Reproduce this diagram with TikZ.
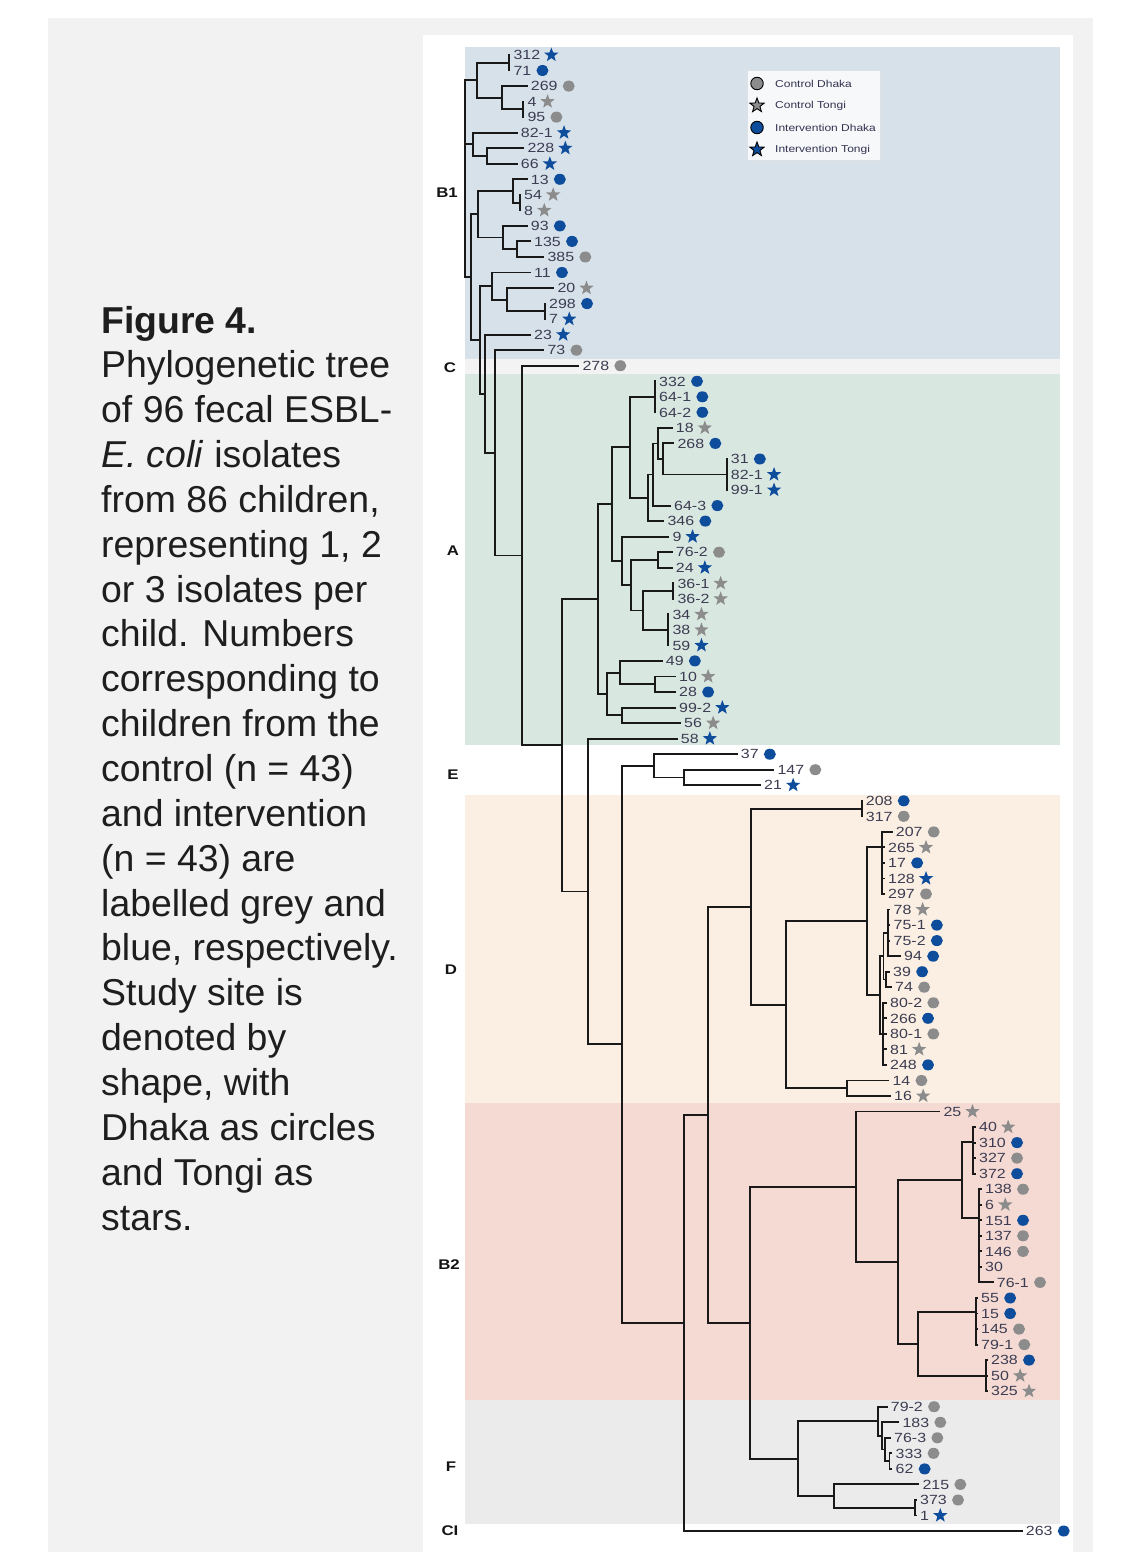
\documentclass[tikz,border=0pt]{standalone}
\usepackage{fontspec}
\setmainfont{Liberation Sans}
\newfontfamily\leaffont[FakeStretch=1.2]{Liberation Sans}
\usetikzlibrary{shapes.geometric}
\definecolor{gC}{RGB}{140,140,140}
\definecolor{bC}{RGB}{14,77,155}
\definecolor{labC}{RGB}{60,60,82}
\definecolor{outerC}{RGB}{242,242,242}
\definecolor{bandBone}{RGB}{214,225,234}
\definecolor{bandC}{RGB}{243,243,243}
\definecolor{bandA}{RGB}{217,231,225}
\definecolor{bandD}{RGB}{250,239,226}
\definecolor{bandBtwo}{RGB}{245,218,211}
\definecolor{bandF}{RGB}{235,235,235}
\definecolor{legC}{RGB}{247,248,250}
\definecolor{legB}{RGB}{222,226,230}
\tikzset{
 br/.style={line width=1.9pt, line cap=rect, draw={rgb,255:red,25;green,25;blue,25}},
 lab/.style={inner sep=0pt, anchor=west, font=\leaffont\fontsize{13.3}{13.3}\selectfont, text=labC, text height=9.5pt, text depth=0pt},
 symCD/.style={ellipse, fill=gC, inner sep=0pt, minimum width=12pt, minimum height=11pt},
 symID/.style={symCD, fill=bC},
 symCT/.style={star, star points=5, star point ratio=2.4, fill=gC, inner sep=0pt, minimum size=15pt},
 symIT/.style={symCT, fill=bC},
 symNO/.style={inner sep=0pt, minimum size=0pt},
 regtxt/.style={font=\leaffont\bfseries\fontsize{14}{14}\selectfont, text={rgb,255:red,20;green,20;blue,20}},
 captxt/.style={anchor=base west, inner sep=0pt, font=\fontsize{37.4}{44.9}\selectfont, text={rgb,255:red,30;green,30;blue,30}},
 legtxt/.style={anchor=west, inner sep=0pt, font=\leaffont\fontsize{10}{10}\selectfont, text={rgb,255:red,50;green,50;blue,80}},
}
\newcommand\lv[5]{%
 \coordinate (L#1) at (#2,#3);
 \node[lab] (T#1) at ([xshift=4pt]L#1) {#4};
 \node[sym#5] (S#1) at ([xshift=11pt]T#1.east) {};
}
\newcommand\kids[2]{\foreach \c in {#2}{\draw[br] (#1) |- (\c);}}
\begin{document}
\begin{tikzpicture}[x=1pt,y=-1pt]
\useasboundingbox (0,0) rectangle (1145,1552);
\fill[white] (0,0) rectangle (1145,1552);
\fill[outerC] (48,18) rectangle (1093,1552);
\fill[white] (423,35) rectangle (1073,1552);
% bands
\fill[bandBone] (465,47) rectangle (1060,359);
\fill[bandC] (465,359) rectangle (1060,374);
\fill[bandA] (465,374) rectangle (1060,745);
\fill[bandD] (465,795) rectangle (1060,1103);
\fill[bandBtwo] (465,1103) rectangle (1060,1400);
\fill[bandF] (465,1400) rectangle (1060,1524);
% caption
\foreach \t [count=\i] in {\textbf{Figure 4.},Phylogenetic tree,{of 96 fecal ESBL-},{\textit{E. coli} isolates},{from 86 children,},{representing 1, 2},or 3 isolates per,child. Numbers,corresponding to,children from the,control (n = 43),and intervention,(n = 43) are,labelled grey and,{blue, respectively.},Study site is,denoted by,{shape, with},Dhaka as circles,and Tongi as,stars.}
  {\node[captxt] (cap\i) at (101,{333+44.85*(\i-1)}) {\t};}
% region letters
\node[regtxt] (rB1) at (447,193) {B1};
\node[regtxt] (rC) at (450,368) {C};
\node[regtxt] (rA) at (453,551) {A};
\node[regtxt] (rE) at (453,775) {E};
\node[regtxt] (rD) at (451,970) {D};
\node[regtxt] (rB2) at (449,1265) {B2};
\node[regtxt] (rF) at (451,1467) {F};
\node[regtxt] (rCI) at (450,1531) {CI};
% legend
\filldraw[fill=legC, draw=legB, line width=0.8pt] (747,70) rectangle (880,160);
\node[ellipse, draw=black, fill=gC, line width=0.9pt, inner sep=0pt, minimum size=12.5pt] (g1) at (757,83.5) {};
\node[star, star points=5, star point ratio=2.4, draw=black, fill=gC, line width=0.9pt, inner sep=0pt, minimum size=15pt] (g2) at (757,105.5) {};
\node[ellipse, draw=black, fill=bC, line width=0.9pt, inner sep=0pt, minimum size=12.5pt] (g3) at (757,127.5) {};
\node[star, star points=5, star point ratio=2.4, draw=black, fill=bC, line width=0.9pt, inner sep=0pt, minimum size=15pt] (g4) at (757,149.5) {};
\node[legtxt] (lt1) at (775,83.5) {Control Dhaka};
\node[legtxt] (lt2) at (775,105.5) {Control Tongi};
\node[legtxt] (lt3) at (775,127.5) {Intervention Dhaka};
\node[legtxt] (lt4) at (775,149.5) {Intervention Tongi};
% leaves
\lv{0}{509.3}{55.0}{312}{IT}
\lv{1}{509.3}{70.5}{71}{ID}
\lv{2}{526.7}{86.1}{269}{CD}
\lv{3}{523.3}{101.6}{4}{CT}
\lv{4}{523.3}{117.1}{95}{CD}
\lv{5}{516.7}{132.7}{82-1}{IT}
\lv{6}{523.3}{148.2}{228}{IT}
\lv{7}{516.7}{163.8}{66}{IT}
\lv{8}{526.7}{179.3}{13}{ID}
\lv{9}{520}{194.8}{54}{CT}
\lv{10}{520}{210.4}{8}{CT}
\lv{11}{526.7}{225.9}{93}{ID}
\lv{12}{530}{241.4}{135}{ID}
\lv{13}{543.3}{257.0}{385}{CD}
\lv{14}{530}{272.5}{11}{ID}
\lv{15}{553.3}{288.1}{20}{CT}
\lv{16}{545}{303.6}{298}{ID}
\lv{17}{545}{319.1}{7}{IT}
\lv{18}{530}{334.7}{23}{IT}
\lv{19}{543.3}{350.2}{73}{CD}
\lv{20}{578.3}{365.7}{278}{CD}
\lv{21}{655}{381.3}{332}{ID}
\lv{22}{655}{396.8}{64-1}{ID}
\lv{23}{655}{412.3}{64-2}{ID}
\lv{24}{671.7}{427.9}{18}{CT}
\lv{25}{673.3}{443.4}{268}{ID}
\lv{26}{726.7}{459.0}{31}{ID}
\lv{27}{726.7}{474.5}{82-1}{IT}
\lv{28}{726.7}{490.0}{99-1}{IT}
\lv{29}{670}{505.6}{64-3}{ID}
\lv{30}{663.3}{521.1}{346}{ID}
\lv{31}{668.3}{536.6}{9}{IT}
\lv{32}{671.7}{552.2}{76-2}{CD}
\lv{33}{671.7}{567.7}{24}{IT}
\lv{34}{673.3}{583.3}{36-1}{CT}
\lv{35}{673.3}{598.8}{36-2}{CT}
\lv{36}{668.3}{614.3}{34}{CT}
\lv{37}{668.3}{629.9}{38}{CT}
\lv{38}{668.3}{645.4}{59}{IT}
\lv{39}{661.7}{660.9}{49}{ID}
\lv{40}{675}{676.5}{10}{CT}
\lv{41}{675}{692.0}{28}{ID}
\lv{42}{675}{707.6}{99-2}{IT}
\lv{43}{680}{723.1}{56}{CT}
\lv{44}{676.7}{738.6}{58}{IT}
\lv{45}{736.7}{754.2}{37}{ID}
\lv{46}{773.3}{769.7}{147}{CD}
\lv{47}{760}{785.2}{21}{IT}
\lv{48}{861.7}{800.8}{208}{ID}
\lv{49}{861.7}{816.3}{317}{CD}
\lv{50}{891.7}{831.9}{207}{CD}
\lv{51}{884}{847.4}{265}{CT}
\lv{52}{884}{862.9}{17}{ID}
\lv{53}{884}{878.5}{128}{IT}
\lv{54}{884}{894.0}{297}{CD}
\lv{55}{889.5}{909.5}{78}{CT}
\lv{56}{889.5}{925.1}{75-1}{ID}
\lv{57}{889.5}{940.6}{75-2}{ID}
\lv{58}{900}{956.2}{94}{ID}
\lv{59}{889}{971.7}{39}{ID}
\lv{60}{891}{987.2}{74}{CD}
\lv{61}{886}{1002.8}{80-2}{CD}
\lv{62}{886}{1018.3}{266}{ID}
\lv{63}{886}{1033.9}{80-1}{CD}
\lv{64}{886}{1049.4}{81}{CT}
\lv{65}{886}{1064.9}{248}{ID}
\lv{66}{888.3}{1080.5}{14}{CD}
\lv{67}{890}{1096.0}{16}{CT}
\lv{68}{939.3}{1111.5}{25}{CT}
\lv{69}{975}{1127.1}{40}{CT}
\lv{70}{975}{1142.6}{310}{ID}
\lv{71}{975}{1158.1}{327}{CD}
\lv{72}{975}{1173.7}{372}{ID}
\lv{73}{981}{1189.2}{138}{CD}
\lv{74}{981}{1204.8}{6}{CT}
\lv{75}{981}{1220.3}{151}{ID}
\lv{76}{981}{1235.8}{137}{CD}
\lv{77}{981}{1251.4}{146}{CD}
\lv{78}{981}{1266.9}{30}{NO}
\lv{79}{992.7}{1282.4}{76-1}{CD}
\lv{80}{977}{1298.0}{55}{ID}
\lv{81}{977}{1313.5}{15}{ID}
\lv{82}{977}{1329.1}{145}{CD}
\lv{83}{977}{1344.6}{79-1}{CD}
\lv{84}{987}{1360.1}{238}{ID}
\lv{85}{987}{1375.7}{50}{CT}
\lv{86}{987}{1391.2}{325}{CT}
\lv{87}{886.7}{1406.7}{79-2}{CD}
\lv{88}{898.3}{1422.3}{183}{CD}
\lv{89}{890}{1437.8}{76-3}{CD}
\lv{90}{891.5}{1453.3}{333}{CD}
\lv{91}{891.5}{1468.9}{62}{ID}
\lv{92}{918.3}{1484.4}{215}{CD}
\lv{93}{916}{1500.0}{373}{CD}
\lv{94}{916}{1515.5}{1}{IT}
\lv{95}{1021.7}{1531.0}{263}{ID}
% internal nodes
\coordinate (root) at (465,180);
\coordinate (n1) at (476.7,80.2);
\coordinate (n2) at (509.3,62.8);
\coordinate (n3) at (501.7,97.7);
\coordinate (n4) at (523.3,109.4);
\coordinate (n5) at (486.7,156.0);
\coordinate (n6) at (473.3,144.4);
\coordinate (n7) at (520,202.6);
\coordinate (n8) at (513.3,191.0);
\coordinate (n9) at (516.7,249.2);
\coordinate (n10) at (503.3,237.5);
\coordinate (n11) at (478.3,214.3);
\coordinate (n12) at (545,311.4);
\coordinate (n13) at (507.3,299.7);
\coordinate (n14) at (491.7,286.1);
\coordinate (s471) at (471,277.1);
\coordinate (s480) at (480,339.9);
\coordinate (s485) at (485,393.8);
\coordinate (s495) at (495,452.9);
\coordinate (s522) at (521.7,555.5);
\coordinate (s562) at (561.7,745.3);
\coordinate (s587) at (587.7,891.5);
\coordinate (s622) at (621.7,1044.4);
\coordinate (s684) at (684.3,1322.9);
\coordinate (s708) at (708.3,1114.7);
\coordinate (a1) at (655,396.8);
\coordinate (a2) at (726.7,474.5);
\coordinate (a3) at (663.3,459.0);
\coordinate (a4) at (657.7,443.5);
\coordinate (a5) at (652.7,474.5);
\coordinate (a6) at (648.3,497.8);
\coordinate (a7) at (630,447.3);
\coordinate (a8) at (657.7,560.0);
\coordinate (a9) at (673.3,591.0);
\coordinate (a10) at (668.3,629.9);
\coordinate (a11) at (642.7,610.5);
\coordinate (a12) at (631,585.2);
\coordinate (a13) at (621.7,560.9);
\coordinate (a14) at (612.3,504.1);
\coordinate (a15) at (655,684.3);
\coordinate (a16) at (620,672.6);
\coordinate (a17) at (621.7,715.4);
\coordinate (a18) at (606.7,694.0);
\coordinate (a19) at (597.7,599.0);
\coordinate (e1) at (684.3,777.5);
\coordinate (e2) at (654,765.8);
\coordinate (d1) at (861.7,808.6);
\coordinate (d2) at (881.7,847.4);
\coordinate (d3) at (866.7,921.2);
\coordinate (d4) at (888.3,932.9);
\coordinate (d5) at (886,979.5);
\coordinate (d6) at (883.5,956.2);
\coordinate (d7) at (883.3,1033.9);
\coordinate (d8) at (880,995.0);
\coordinate (d9) at (846.7,1088.3);
\coordinate (d10) at (785.7,1004.8);
\coordinate (d11) at (750.7,906.7);
\coordinate (b1) at (973.3,1142);
\coordinate (b2) at (979.3,1218.3);
\coordinate (b3) at (962.3,1180);
\coordinate (b4) at (975.7,1312);
\coordinate (b5) at (985.7,1375.7);
\coordinate (b6) at (918.3,1343.8);
\coordinate (b7) at (897.7,1261.9);
\coordinate (b8) at (855.7,1186.7);
\coordinate (b9) at (750,1322.7);
\coordinate (f1) at (889.5,1461.1);
\coordinate (f2) at (885,1449.5);
\coordinate (f3) at (881.7,1435.9);
\coordinate (f4) at (878.3,1421.3);
\coordinate (f5) at (915,1507.8);
\coordinate (f6) at (834.3,1496.1);
\coordinate (f7) at (798.3,1458.7);
% edges
\kids{root}{n1,n6,s471}
\kids{n1}{n2,n3}
\kids{n2}{L0,L1}
\kids{n3}{L2,n4}
\kids{n4}{L3,L4}
\kids{n6}{L5,n5}
\kids{n5}{L6,L7}
\kids{s471}{n11,s480}
\kids{n11}{n8,n10}
\kids{n8}{L8,n7}
\kids{n7}{L9,L10}
\kids{n10}{L11,n9}
\kids{n9}{L12,L13}
\kids{s480}{n14,s485}
\kids{n14}{L14,n13}
\kids{n13}{L15,n12}
\kids{n12}{L16,L17}
\kids{s485}{L18,s495}
\kids{s495}{L19,s522}
\kids{s522}{L20,s562}
\kids{s562}{a19,s587}
\kids{a19}{a14,a18}
\kids{a14}{a7,a13}
\kids{a7}{a1,a6}
\kids{a1}{L21,L22,L23}
\kids{a6}{a5,L30}
\kids{a5}{a4,L29}
\kids{a4}{L24,a3}
\kids{a3}{L25,a2}
\kids{a2}{L26,L27,L28}
\kids{a13}{L31,a12}
\kids{a12}{a8,a11}
\kids{a8}{L32,L33}
\kids{a11}{a9,a10}
\kids{a9}{L34,L35}
\kids{a10}{L36,L37,L38}
\kids{a18}{a16,a17}
\kids{a16}{L39,a15}
\kids{a15}{L40,L41}
\kids{a17}{L42,L43}
\kids{s587}{L44,s622}
\kids{s622}{e2,s684}
\kids{e2}{L45,e1}
\kids{e1}{L46,L47}
\kids{s684}{s708,L95}
\kids{s708}{d11,b9}
\kids{d11}{d1,d10}
\kids{d1}{L48,L49}
\kids{d10}{d3,d9}
\kids{d3}{d2,d8}
\kids{d2}{L50,L51,L52,L53,L54}
\kids{d8}{d6,d7}
\kids{d6}{d4,d5}
\kids{d4}{L55,L56,L57,L58}
\kids{d5}{L59,L60}
\kids{d7}{L61,L62,L63,L64,L65}
\kids{d9}{L66,L67}
\kids{b9}{b8,f7}
\kids{b8}{L68,b7}
\kids{b7}{b3,b6}
\kids{b3}{b1,b2}
\kids{b1}{L69,L70,L71,L72}
\kids{b2}{L73,L74,L75,L76,L77,L78,L79}
\kids{b6}{b4,b5}
\kids{b4}{L80,L81,L82,L83}
\kids{b5}{L84,L85,L86}
\kids{f7}{f4,f6}
\kids{f4}{L87,f3}
\kids{f3}{L88,f2}
\kids{f2}{L89,f1}
\kids{f1}{L90,L91}
\kids{f6}{L92,f5}
\kids{f5}{L93,L94}
\end{tikzpicture}
\end{document}
